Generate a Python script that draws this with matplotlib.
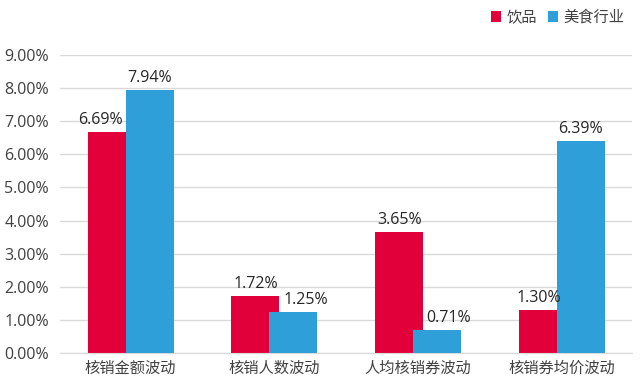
import numpy as np
import matplotlib
matplotlib.use("Agg")
import matplotlib.pyplot as plt
from matplotlib.ticker import FuncFormatter

plt.rcParams['font.family'] = ['Noto Sans CJK SC', 'DejaVu Sans']
num_font = ['Open Sans', 'Noto Sans CJK SC']

# data
categories = ['核销金额波动', '核销人数波动', '人均核销券波动', '核销券均价波动']
drinks = [6.69, 1.72, 3.65, 1.30]
food = [7.94, 1.25, 0.71, 6.39]
series_names = ['饮品', '美食行业']

red = '#E2003B'
blue = '#2E9FD9'

fig = plt.figure(figsize=(6.4, 3.85), dpi=100)
ax = fig.add_axes([0.094, 0.083, 0.894, 0.774])

x = np.arange(len(categories))
w = 0.334
off = 0.132
b1 = ax.bar(x - off, drinks, w, color=red, label=series_names[0], zorder=2)
b2 = ax.bar(x + off, food, w, color=blue, label=series_names[1], zorder=3)

# small horizontal nudges of the value labels, as in the original
red_dx = [-0.08, 0.0, 0.0, -0.03]
blue_dx = [0.0, 0.09, 0.08, 0.0]
for rect, v, dx in zip(b1, drinks, red_dx):
    ax.text(rect.get_x() + rect.get_width() / 2 + dx, v + 0.12, f'{v:.2f}%',
            ha='center', va='bottom', fontsize=11.5, color='#262626',
            family=num_font, zorder=4)
for rect, v, dx in zip(b2, food, blue_dx):
    ax.text(rect.get_x() + rect.get_width() / 2 + dx, v + 0.12, f'{v:.2f}%',
            ha='center', va='bottom', fontsize=11.5, color='#262626',
            family=num_font, zorder=4)

ax.set_xlim(-0.49, 3.49)
ax.set_ylim(0, 9)
ax.set_yticks(np.arange(0, 10, 1))
ax.yaxis.set_major_formatter(FuncFormatter(lambda v, p: f'{v:.2f}%'))
ax.set_xticks(x)
ax.set_xticklabels(categories)
for lab in ax.get_yticklabels():
    lab.set_family(num_font)
ax.tick_params(axis='both', length=0, colors='#404040')
ax.tick_params(axis='y', pad=8, labelsize=11.5)
ax.tick_params(axis='x', pad=5, labelsize=11)
ax.grid(axis='y', color='#D9D9D9', linewidth=1, zorder=0)
for s in ['top', 'right', 'left']:
    ax.spines[s].set_visible(False)
ax.spines['bottom'].set_color('#D9D9D9')

fig.legend(loc='center right', bbox_to_anchor=(0.975, 0.955), ncol=2, frameon=False,
           fontsize=11, handlelength=0.65, handleheight=0.65, handletextpad=0.35,
           columnspacing=0.7, borderpad=0, borderaxespad=0, labelcolor='#404040')

fig.savefig('out.png', dpi=100)
